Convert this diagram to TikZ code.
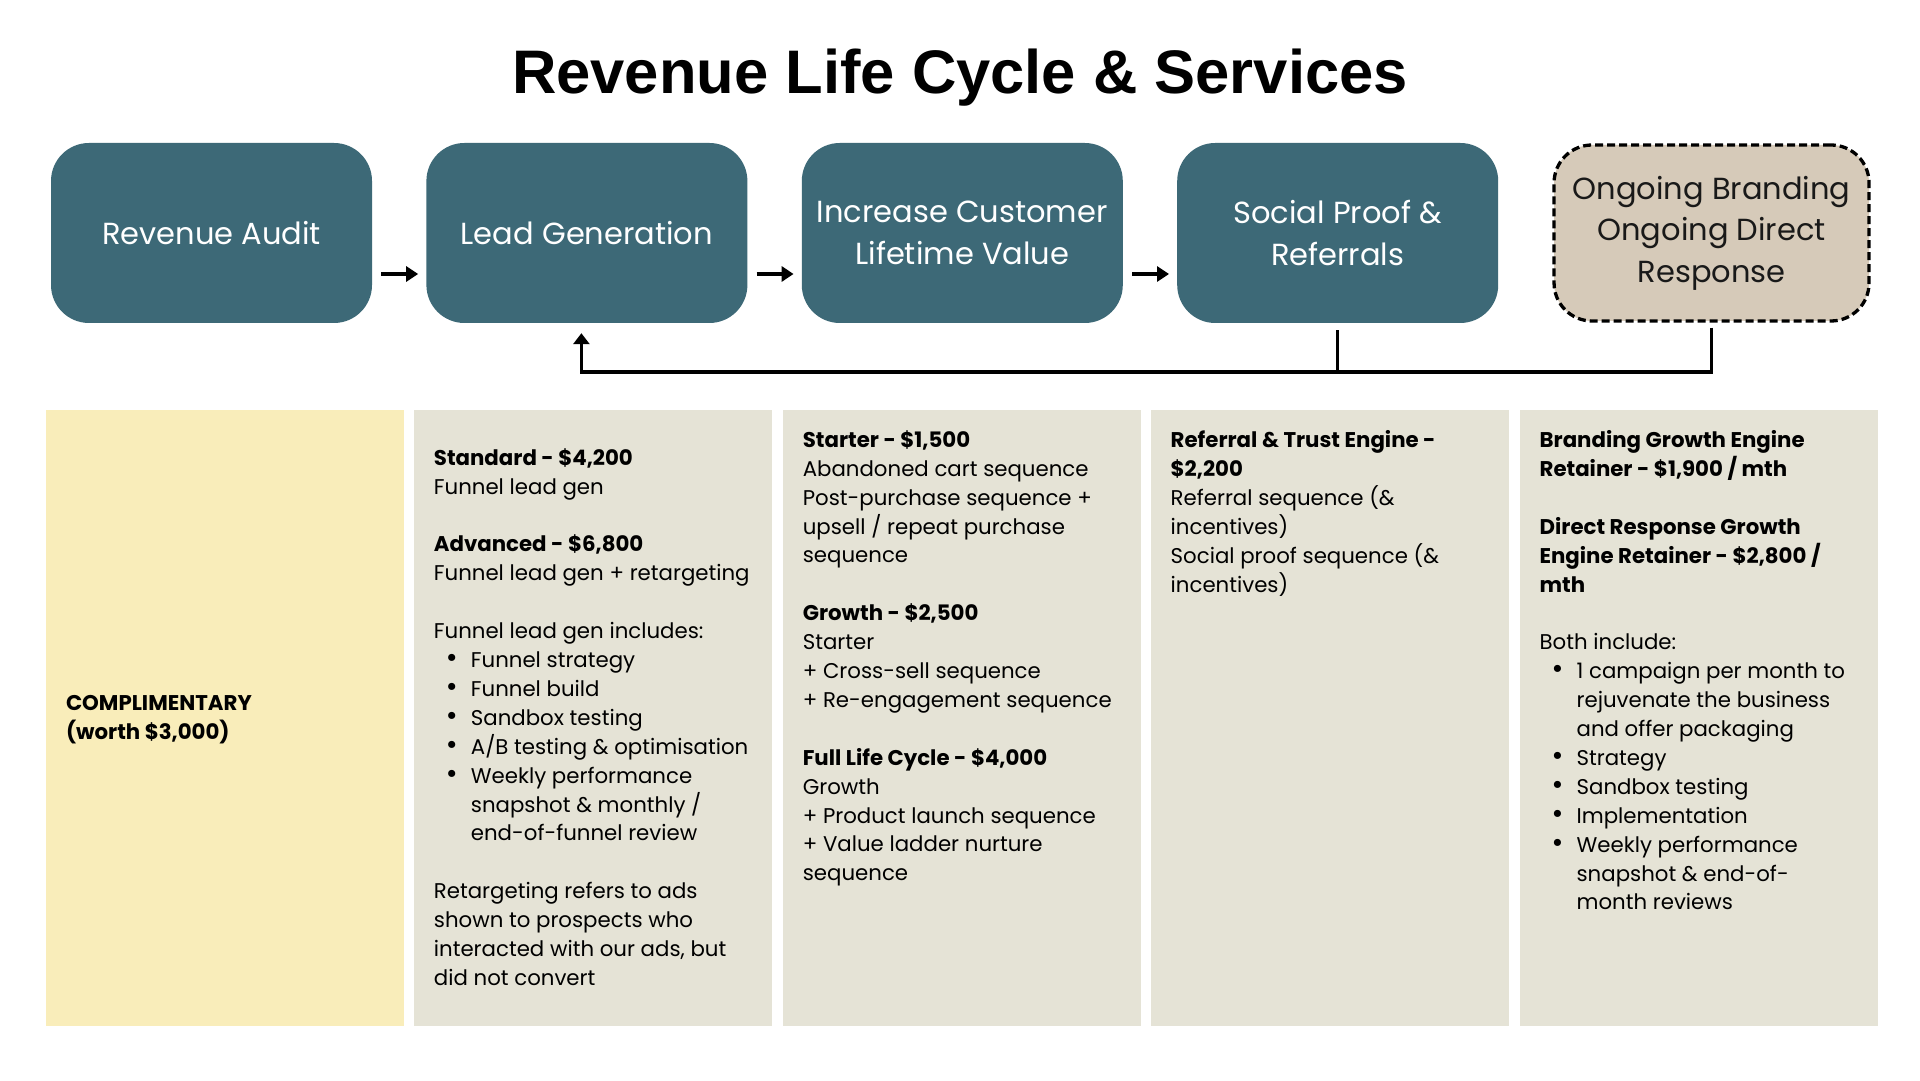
\documentclass[tikz,border=0pt]{standalone}
\usepackage{fontspec}
\setmainfont{Poppins}
\newfontfamily\headfont{Liberation Sans}
\usetikzlibrary{arrows.meta, positioning}
\definecolor{stage}  {HTML}{3D6977}
\definecolor{ongoing}{HTML}{D6CAB9}
\definecolor{freebg} {HTML}{F9EDBA}
\definecolor{offerbg}{HTML}{E5E3D6}
\newcommand\bul{\makebox[37pt][l]{\hspace{12pt}\scalebox{1.35}{\textbullet}}}
\newcommand\ind{\hspace*{37pt}}
\newcommand\gap{\\[28.9pt]}

\begin{document}
\begin{tikzpicture}[x=1pt, y=1pt,
    stagebox/.style={fill=stage, text=white, rounded corners=38pt, minimum width=321pt, minimum height=180pt, align=center, font=\fontsize{30.5}{41.6}\selectfont},
    panel/.style={fill=offerbg, minimum width=358pt, minimum height=616pt, inner sep=0pt},
    offertext/.style={align=left, inner sep=0pt, font=\fontsize{21.3}{28.9}\selectfont},
    flow/.style={-{Triangle[length=12pt, width=15pt]}, line width=4pt},
    loopline/.style={line width=3.3pt}]
  \useasboundingbox (0,0) rectangle (1920,1080);
  \fill[white] (0,0) rectangle (1920,1080);

  \node[font=\headfont\bfseries\fontsize{61.5}{70}\selectfont, anchor=base] (title) at (960,986.7) {Revenue Life Cycle \& Services};

  % stages
  \node[stagebox] (audit) at (211.5,847) {Revenue Audit};
  \node[stagebox, right=54pt of audit] (lead) {Lead Generation};
  \node[stagebox, right=54pt of lead] (ltv) {Increase Customer\\Lifetime Value};
  \node[stagebox, right=54pt of ltv] (social) {Social Proof \&\\Referrals};
  \node[stagebox, right=54pt of social, fill=ongoing, text=black!90, draw=black, line width=3.3pt, dash pattern=on 8pt off 4pt, minimum width=315pt, minimum height=176pt] (ongoing) {Ongoing Branding\\Ongoing Direct\\Response};

  \draw[flow] ([xshift=9pt, yshift=-41pt]audit.east) -- ([xshift=-8pt, yshift=-41pt]lead.west);
  \draw[flow] ([xshift=9pt, yshift=-41pt]lead.east) -- ([xshift=-8pt, yshift=-41pt]ltv.west);
  \draw[flow] ([xshift=9pt, yshift=-41pt]ltv.east) -- ([xshift=-8pt, yshift=-41pt]social.west);

  % loop back to lead generation
  \draw[loopline, -{Triangle[length=11pt, width=16pt]}] ([yshift=-7pt]social.south) -- ++(0,-41.7) coordinate (hub) -| ([xshift=-5.5pt, yshift=-10pt]lead.south);
  \draw[loopline] ([yshift=-5pt]ongoing.south) |- (hub);

  % service panels
  \node[panel, fill=freebg] (pfree) at (225,362) {};
  \node[panel, right=10pt of pfree] (plead) {};
  \node[panel, right=10pt of plead] (pltv) {};
  \node[panel, right=10pt of pltv] (pref) {};
  \node[panel, right=10pt of pref] (pong) {};

  \node[offertext, anchor=west, font=\fontsize{21.3}{28.9}\selectfont\bfseries] (tfree) at ([xshift=20pt, yshift=-2pt]pfree.west)
    {COMPLIMENTARY\\(worth \$3,000)};
  \node[offertext, anchor=west] (tlead) at ([xshift=19.5pt, yshift=1pt]plead.west)
    {\textbf{Standard - \$4,200}\\
     Funnel lead gen\gap
     \textbf{Advanced - \$6,800}\\
     Funnel lead gen + retargeting\gap
     Funnel lead gen includes:\\
     \bul Funnel strategy\\
     \bul Funnel build\\
     \bul Sandbox testing\\
     \bul A/B testing \& optimisation\\
     \bul Weekly performance\\
     \ind snapshot \& monthly /\\
     \ind end-of-funnel review\gap
     Retargeting refers to ads\\
     shown to prospects who\\
     interacted with our ads, but\\
     did not convert};
  \node[offertext, anchor=north west] (tltv) at ([xshift=20pt, yshift=-20.5pt]pltv.north west)
    {\textbf{Starter - \$1,500}\\
     Abandoned cart sequence\\
     Post-purchase sequence +\\
     upsell / repeat purchase\\
     sequence\gap
     \textbf{Growth - \$2,500}\\
     Starter\\
     + Cross-sell sequence\\
     + Re-engagement sequence\gap
     \textbf{Full Life Cycle - \$4,000}\\
     Growth\\
     + Product launch sequence\\
     + Value ladder nurture\\
     sequence};
  \node[offertext, anchor=north west] (tref) at ([xshift=19.5pt, yshift=-20.5pt]pref.north west)
    {\textbf{Referral \& Trust Engine -}\\
     \textbf{\$2,200}\\
     Referral sequence (\&\\
     incentives)\\
     Social proof sequence (\&\\
     incentives)};
  \node[offertext, anchor=north west] (tong) at ([xshift=20pt, yshift=-20.5pt]pong.north west)
    {\textbf{Branding Growth Engine}\\
     \textbf{Retainer - \$1,900 / mth}\gap
     \textbf{Direct Response Growth}\\
     \textbf{Engine Retainer - \$2,800 /}\\
     \textbf{mth}\gap
     Both include:\\
     \bul 1 campaign per month to\\
     \ind rejuvenate the business\\
     \ind and offer packaging\\
     \bul Strategy\\
     \bul Sandbox testing\\
     \bul Implementation\\
     \bul Weekly performance\\
     \ind snapshot \& end-of-\\
     \ind month reviews};
\end{tikzpicture}
\end{document}
